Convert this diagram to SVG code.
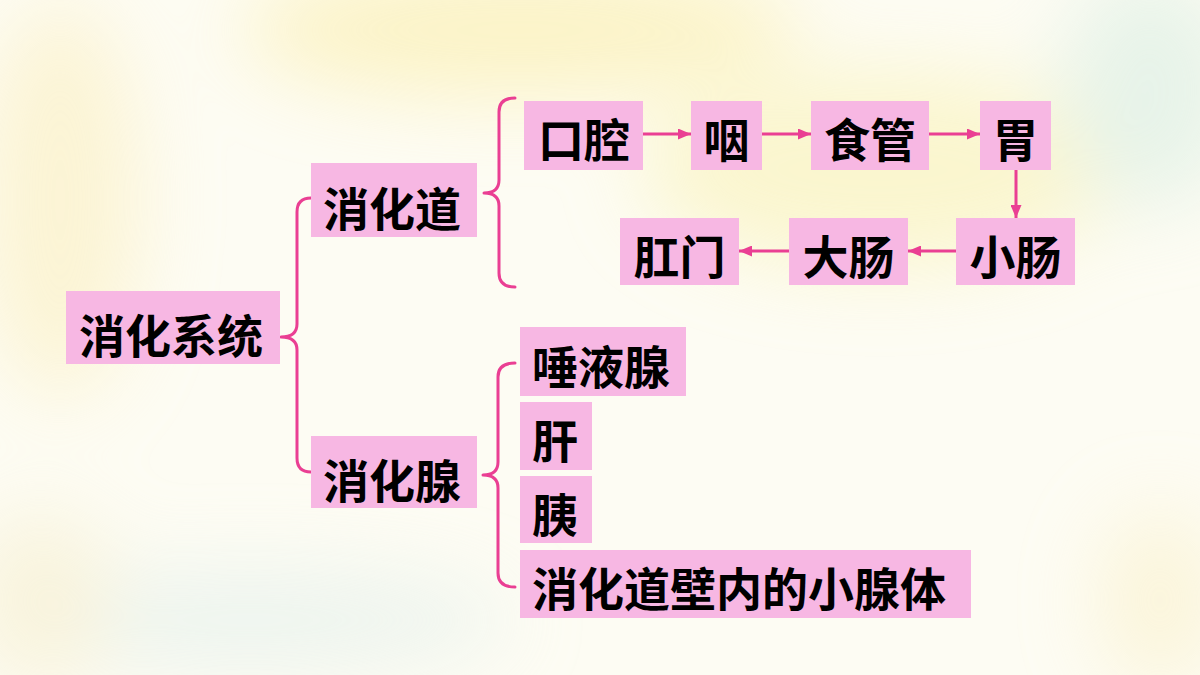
<svg xmlns="http://www.w3.org/2000/svg" width="1200" height="675" viewBox="0 0 1200 675">
<defs>
<style>
.box{fill:#F7B7E3;}
.t{font-family:"Noto Sans CJK SC","Noto Sans CJK JP",sans-serif;font-size:46px;font-weight:600;fill:#000;dominant-baseline:central;}
.br{fill:none;stroke:#EA3F93;stroke-width:3;stroke-linecap:round;stroke-linejoin:round;}
.ar{fill:none;stroke:#EA3F93;stroke-width:3;}
</style>
<marker id="ah" viewBox="0 0 13 11" refX="13" refY="5.5" markerWidth="13" markerHeight="11" markerUnits="userSpaceOnUse" orient="auto">
<path d="M0,0 L13,5.5 L0,11 Z" fill="#EA3F93"/>
</marker>
<filter id="blur" x="-50%" y="-50%" width="200%" height="200%"><feGaussianBlur stdDeviation="40"/></filter>
</defs>
<rect width="1200" height="675" fill="#FDFCF3"/>
<g filter="url(#blur)" opacity="0.65">
<ellipse cx="520" cy="30" rx="280" ry="70" fill="#FBEFB0"/>
<ellipse cx="60" cy="200" rx="80" ry="200" fill="#FBF0C4"/>
<ellipse cx="880" cy="170" rx="240" ry="100" fill="#F9F3BC"/>
<ellipse cx="1150" cy="90" rx="90" ry="120" fill="#DCEFE4"/>
<ellipse cx="250" cy="620" rx="260" ry="50" fill="#E4F0EC"/>
<ellipse cx="40" cy="600" rx="70" ry="90" fill="#F6EFD0"/>
<ellipse cx="1160" cy="600" rx="60" ry="90" fill="#FAF1CC"/>
</g>
<g id="connectors">
<path class="br" d="M311,198 Q297,198 297,212 L297,324 Q297,337 281,337 Q297,337 297,350 L297,458 Q297,472 311,472"/>
<path class="br" d="M515,98 Q499,98 499,112 L499,180 Q499,193 484,193 Q499,193 499,206 L499,273 Q499,287 515,287"/>
<path class="br" d="M515,363 Q498,363 498,377 L498,462 Q498,475 483,475 Q498,475 498,488 L498,573 Q498,587 515,587"/>
<line class="ar" x1="643" y1="134" x2="691" y2="134" marker-end="url(#ah)"/>
<line class="ar" x1="762" y1="134" x2="811" y2="134" marker-end="url(#ah)"/>
<line class="ar" x1="929" y1="134" x2="980" y2="134" marker-end="url(#ah)"/>
<line class="ar" x1="1016" y1="170" x2="1016" y2="218" marker-end="url(#ah)"/>
<line class="ar" x1="956" y1="251" x2="908" y2="251" marker-end="url(#ah)"/>
<line class="ar" x1="789" y1="251" x2="739" y2="251" marker-end="url(#ah)"/>
</g>
<g id="n-xhxt"><rect class="box" x="66" y="291" width="214" height="73"/><text class="t" x="79" y="333">消化系统</text></g>
<g id="n-xhd"><rect class="box" x="311" y="163" width="166" height="74"/><text class="t" x="323" y="206">消化道</text></g>
<g id="n-xhx"><rect class="box" x="311" y="436" width="166" height="72"/><text class="t" x="323" y="478">消化腺</text></g>
<g id="n-kq"><rect class="box" x="524" y="101" width="119" height="69"/><text class="t" x="584" y="137" text-anchor="middle">口腔</text></g>
<g id="n-y"><rect class="box" x="691" y="101" width="71" height="69"/><text class="t" x="726.5" y="137" text-anchor="middle">咽</text></g>
<g id="n-sg"><rect class="box" x="811" y="101" width="118" height="69"/><text class="t" x="870" y="137" text-anchor="middle">食管</text></g>
<g id="n-w"><rect class="box" x="980" y="101" width="71" height="69"/><text class="t" x="1015.5" y="137" text-anchor="middle">胃</text></g>
<g id="n-xc"><rect class="box" x="956" y="218" width="119" height="67"/><text class="t" x="1015.5" y="254" text-anchor="middle">小肠</text></g>
<g id="n-dc"><rect class="box" x="789" y="218" width="119" height="67"/><text class="t" x="848.5" y="254" text-anchor="middle">大肠</text></g>
<g id="n-gm"><rect class="box" x="620" y="218" width="119" height="67"/><text class="t" x="679.5" y="254" text-anchor="middle">肛门</text></g>
<g id="n-tyx"><rect class="box" x="520" y="327" width="166" height="69"/><text class="t" x="532" y="364">唾液腺</text></g>
<g id="n-g"><rect class="box" x="520" y="402" width="72" height="68"/><text class="t" x="532" y="438">肝</text></g>
<g id="n-y2"><rect class="box" x="520" y="476" width="72" height="67"/><text class="t" x="532" y="512">胰</text></g>
<g id="n-xxt"><rect class="box" x="520" y="550" width="451" height="68"/><text class="t" x="532" y="586">消化道壁内的小腺体</text></g>
</svg>
